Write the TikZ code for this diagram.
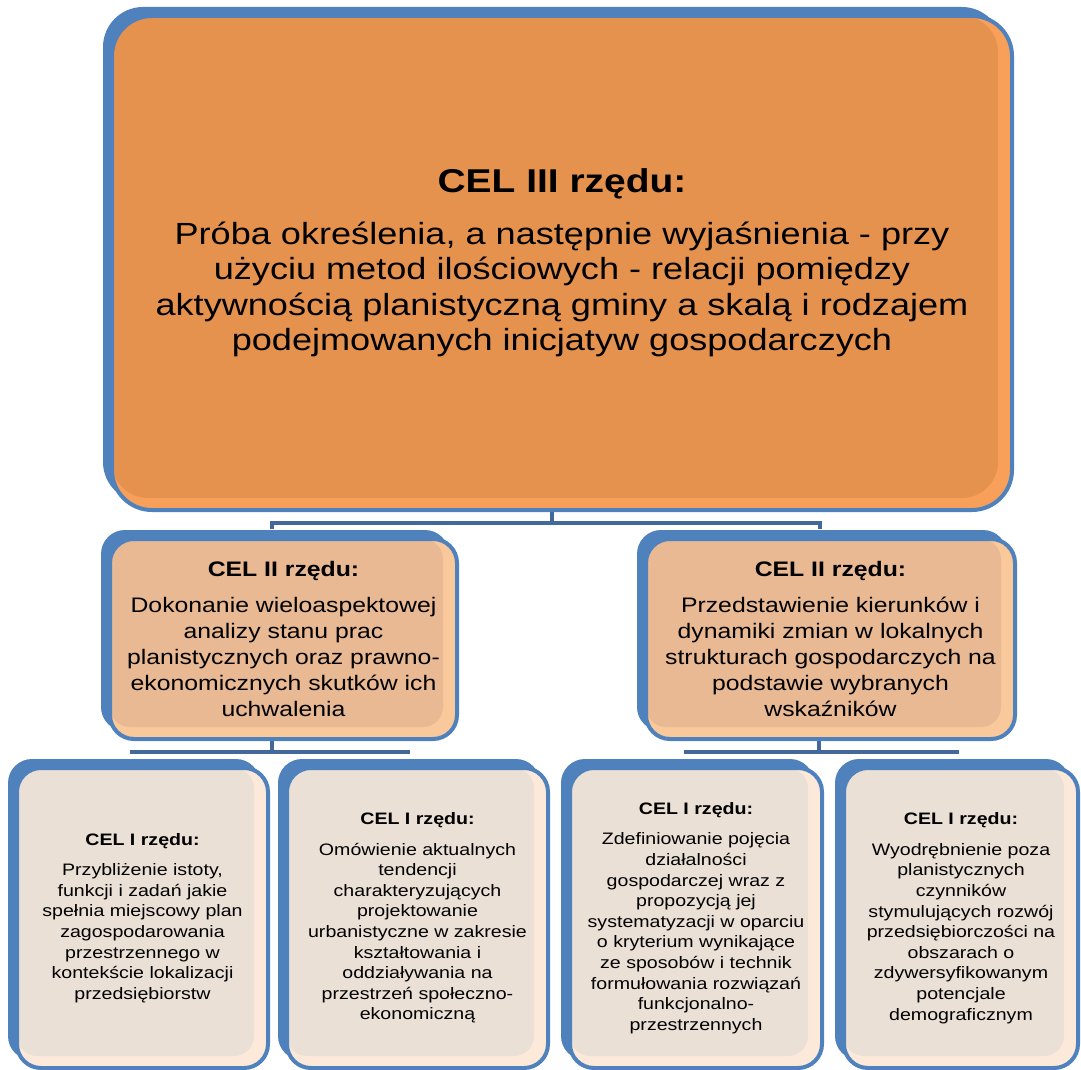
\documentclass[tikz,border=0pt]{standalone}
\usepackage{fontspec}
\setmainfont{Liberation Sans}[FakeStretch=1.18]
\usepackage{tikz}
\usetikzlibrary{calc, backgrounds}
\usepackage{xcolor}

\definecolor{celblue}{HTML}{4F81BD}
\definecolor{linkblue}{HTML}{43699C}
\definecolor{topfill}{HTML}{E6924F}
\definecolor{topstrip}{HTML}{F8A05A}
\definecolor{midfill}{HTML}{E9B994}
\definecolor{midstrip}{HTML}{F9C89B}
\definecolor{lowfill}{HTML}{EBE0D6}
\definecolor{lowstrip}{HTML}{FCE9DA}

\tikzset{
  goal/.style={draw=celblue, line width=2pt, inner sep=0pt, align=center},
  topgoal/.style={goal, rounded corners=20pt, fill=topstrip,
    font=\fontsize{15.3}{17.8}\selectfont,
    path picture={\fill[topfill, rounded corners=18pt] (path picture bounding box.north west)
      rectangle ([shift={(-7pt,6pt)}]path picture bounding box.south east);}},
  midgoal/.style={goal, rounded corners=12pt, fill=midstrip, minimum height=100pt,
    font=\fontsize{10.5}{13}\selectfont,
    path picture={\fill[midfill, rounded corners=10pt] (path picture bounding box.north west)
      rectangle ([shift={(-7pt,6pt)}]path picture bounding box.south east);}},
  lowgoal/.style={goal, rounded corners=12pt, fill=lowstrip, minimum height=150pt,
    font=\fontsize{8.3}{10.3}\selectfont,
    path picture={\fill[lowfill, rounded corners=10pt] (path picture bounding box.north west)
      rectangle ([shift={(-7pt,6pt)}]path picture bounding box.south east);}},
  link/.style={draw=linkblue, line width=2pt, line join=miter}
}

\begin{document}
\begin{tikzpicture}[x=0.5pt, y=-0.5pt]
  \useasboundingbox (0,0) rectangle (1081,1070);

  \node[topgoal, minimum width=450pt, minimum height=247pt] (top) at (562,263)
    {{\fontsize{16.5}{20}\selectfont\bfseries CEL III rzędu:}\\[8pt]
     Próba określenia, a następnie wyjaśnienia - przy\\
     użyciu metod ilościowych - relacji pomiędzy\\
     aktywnością planistyczną gminy a skalą i rodzajem\\
     podejmowanych inicjatyw gospodarczych};

  \node[midgoal, minimum width=173.5pt] (midl) at (283.5,639)
    {{\bfseries CEL II rzędu:}\\[5pt]
     Dokonanie wieloaspektowej\\
     analizy stanu prac\\
     planistycznych oraz prawno-\\
     ekonomicznych skutków ich\\
     uchwalenia};
  \node[midgoal, minimum width=184.5pt] (midr) at (830.5,639)
    {{\bfseries CEL II rzędu:}\\[5pt]
     Przedstawienie kierunków i\\
     dynamiki zmian w lokalnych\\
     strukturach gospodarczych na\\
     podstawie wybranych\\
     wskaźników};

  \node[lowgoal, minimum width=125.5pt] (lowa) at (142.5,918)
    {{\bfseries CEL I rzędu:}\\[5pt]
     Przybliżenie istoty,\\
     funkcji i zadań jakie\\
     spełnia miejscowy plan\\
     zagospodarowania\\
     przestrzennego w\\
     kontekście lokalizacji\\
     przedsiębiorstw};
  \node[lowgoal, minimum width=130.5pt] (lowb) at (417.5,918)
    {{\bfseries CEL I rzędu:}\\[5pt]
     Omówienie aktualnych\\
     tendencji\\
     charakteryzujących\\
     projektowanie\\
     urbanistyczne w zakresie\\
     kształtowania i\\
     oddziaływania na\\
     przestrzeń społeczno-\\
     ekonomiczną};
  \node[lowgoal, minimum width=126pt] (lowc) at (696,918)
    {{\bfseries CEL I rzędu:}\\[5pt]
     Zdefiniowanie pojęcia\\
     działalności\\
     gospodarczej wraz z\\
     propozycją jej\\
     systematyzacji w oparciu\\
     o kryterium wynikające\\
     ze sposobów i technik\\
     formułowania rozwiązań\\
     funkcjonalno-\\
     przestrzennych};
  \node[lowgoal, minimum width=117pt] (lowd) at (961,918)
    {{\bfseries CEL I rzędu:}\\[5pt]
     Wyodrębnienie poza\\
     planistycznych\\
     czynników\\
     stymulujących rozwój\\
     przedsiębiorczości na\\
     obszarach o\\
     zdywersyfikowanym\\
     potencjale\\
     demograficznym};

  \begin{scope}[on background layer]
    \fill[celblue, rounded corners=20pt] ([shift={(-3.5pt,3.5pt)}]top.north west)
      rectangle ([shift={(-6pt,5pt)}]top.south east);
    \foreach \n in {midl,midr,lowa,lowb,lowc,lowd}
      \fill[celblue, rounded corners=12pt] ([shift={(-3.5pt,3.5pt)}]\n.north west)
        rectangle ([shift={(-5pt,5pt)}]\n.south east);

    \draw[link] ([xshift=-5pt]top.south) -- ++(0,11) coordinate (j1);
    \draw[link] ([xshift=-5.75pt,yshift=4pt]midl.north) |- (j1)
      -| ([xshift=-5.25pt,yshift=4pt]midr.north);

    \draw[link] ([xshift=-5.75pt]midl.south) -- ++(0,11) coordinate (j2);
    \draw[link] ([xshift=-5.25pt,yshift=6pt]lowa.north) |- (j2)
      -| ([xshift=-4.75pt,yshift=6pt]lowb.north);

    \draw[link] ([xshift=-6pt]midr.south) -- ++(0,11) coordinate (j3);
    \draw[link] ([xshift=-5pt,yshift=6pt]lowc.north) |- (j3)
      -| ([xshift=-2pt,yshift=6pt]lowd.north);
  \end{scope}
\end{tikzpicture}
\end{document}
